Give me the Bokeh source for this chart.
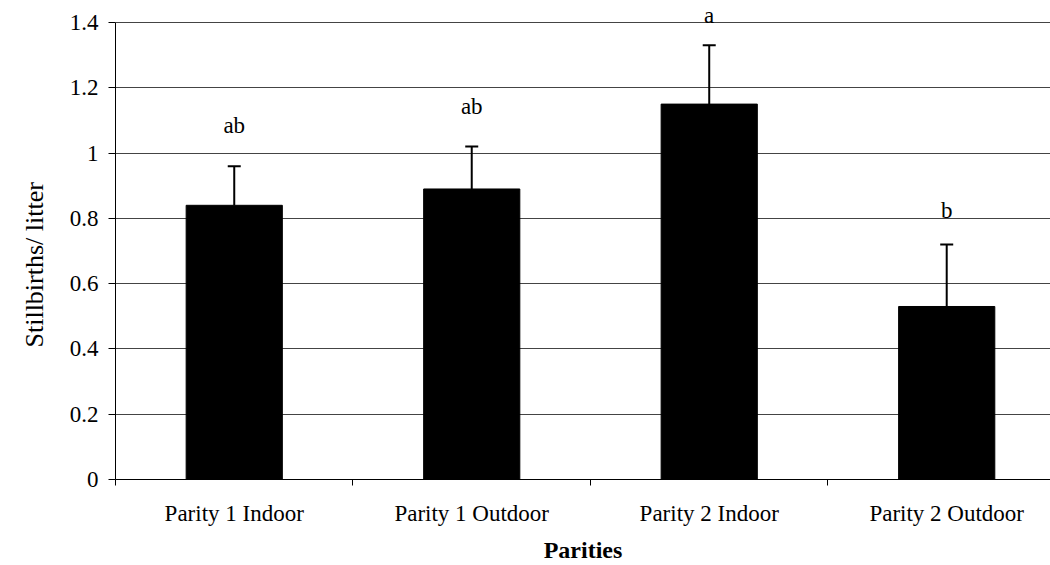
import numpy as np
from bokeh.plotting import figure
from bokeh.models import (ColumnDataSource, Range1d, FixedTicker, NumeralTickFormatter,
                          Whisker, TeeHead, LabelSet, Title)
from bokeh.embed import file_html
from bokeh.resources import INLINE

categories = ["Parity 1 Indoor", "Parity 1 Outdoor", "Parity 2 Indoor", "Parity 2 Outdoor"]
means = [0.84, 0.89, 1.15, 0.53]
errors = [0.12, 0.13, 0.18, 0.19]
letters = ["ab", "ab", "a", "b"]
letter_y = [1.06, 1.12, 1.40, 0.80]
y_ticks = [0, 0.2, 0.4, 0.6, 0.8, 1.0, 1.2, 1.4]

FONT = "Liberation Serif"

centers = list(np.arange(len(categories)) + 0.5)
source = ColumnDataSource(dict(
    x=centers, top=means,
    upper=[m + e for m, e in zip(means, errors)],
    lab=letters, ly=letter_y,
))

p = figure(width=1050, height=565, output_backend="svg", toolbar_location=None,
           x_range=Range1d(0, 3.937), y_range=Range1d(0, 1.4674),
           min_border_left=115, min_border_right=0, min_border_top=0, min_border_bottom=86)
p.outline_line_color = None
p.background_fill_color = "white"
p.border_fill_color = "white"

p.vbar(x="x", top="top", width=0.405, source=source, fill_color="black", line_color="black")

w = Whisker(base="x", lower="top", upper="upper", source=source, dimension="height",
            line_color="black", line_width=2, lower_head=None,
            upper_head=TeeHead(size=13, line_width=2, line_color="black"))
p.add_layout(w)

labels = LabelSet(x="x", y="ly", text="lab", source=source, text_align="center",
                  text_baseline="alphabetic", text_font=FONT, text_font_size="23px",
                  text_color="black")
p.add_layout(labels)

# x axis
xa = p.xaxis[0]
xa.ticker = FixedTicker(ticks=centers, minor_ticks=list(range(len(categories))))
xa.major_label_overrides = {c: n for c, n in zip(centers, categories)}
xa.major_tick_line_color = None
xa.major_tick_out = 0
xa.major_tick_in = 0
xa.minor_tick_out = 6
xa.minor_tick_in = 0
xa.minor_tick_line_color = "black"
xa.axis_line_color = "black"
xa.major_label_text_font = FONT
xa.major_label_text_font_size = "23px"
xa.major_label_text_color = "black"
xa.major_label_standoff = 15
xa.axis_label = "Parities"
xa.axis_label_text_font = FONT
xa.axis_label_text_font_style = "bold"
xa.axis_label_text_font_size = "24px"
xa.axis_label_text_color = "black"
xa.axis_label_standoff = 8

# y axis
ya = p.yaxis[0]
ya.ticker = FixedTicker(ticks=y_ticks)
ya.bounds = (0, 1.4)
ya.formatter = NumeralTickFormatter(format="0.[0]")
ya.major_tick_out = 7
ya.major_tick_in = 0
ya.minor_tick_line_color = None
ya.axis_line_color = "black"
ya.major_tick_line_color = "black"
ya.major_label_text_font = FONT
ya.major_label_text_font_size = "23px"
ya.major_label_text_color = "black"
ya.major_label_standoff = 10

ytitle = Title(text="Stillbirths/ litter", align="left", offset=132, standoff=32,
               vertical_align="top",
               text_font=FONT, text_font_style="normal", text_font_size="26px",
               text_color="black")
p.add_layout(ytitle, "left")

p.xgrid.grid_line_color = None
p.ygrid.ticker = FixedTicker(ticks=y_ticks)
p.ygrid.grid_line_color = "#444444"
p.ygrid.grid_line_width = 1

open("out.html", "w").write(file_html(p, INLINE))
